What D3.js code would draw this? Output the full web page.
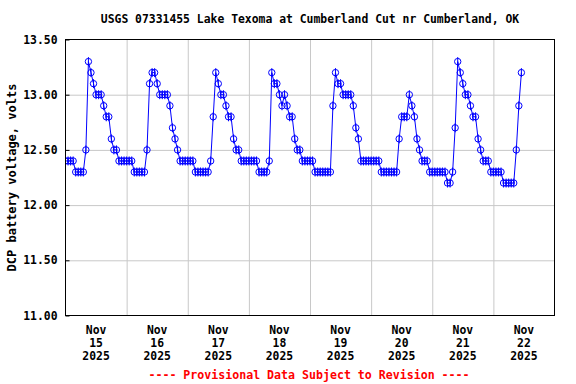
<!DOCTYPE html>
<html>
<head>
<meta charset="utf-8">
<script src="https://cdn.jsdelivr.net/npm/d3@7"></script>
<style>
  body { margin: 0; background: #fff; }
  svg text { font-family: "DejaVu Sans Mono", "Liberation Mono", monospace; font-weight: bold; }
</style>
</head>
<body>
<svg id="chart" width="576" height="384"></svg>
<script>
const title = 'USGS 07331455 Lake Texoma at Cumberland Cut nr Cumberland, OK'
const yLabel = 'DCP battery voltage, volts'
const footer = '---- Provisional Data Subject to Revision ----'

// hourly readings starting Nov 15 2025 00:00
const startTime = Date.UTC(2025, 10, 15)
const volts = [
  12.4, 12.4, 12.4, 12.4, 12.3, 12.3, 12.3, 12.3, 12.5, 13.3, 13.2, 13.1, 13.0, 13.0, 13.0, 12.9, 12.8, 12.8, 12.6, 12.5, 12.5, 12.4, 12.4, 12.4,
  12.4, 12.4, 12.4, 12.3, 12.3, 12.3, 12.3, 12.3, 12.5, 13.1, 13.2, 13.2, 13.1, 13.0, 13.0, 13.0, 13.0, 12.9, 12.7, 12.6, 12.5, 12.4, 12.4, 12.4,
  12.4, 12.4, 12.4, 12.3, 12.3, 12.3, 12.3, 12.3, 12.3, 12.4, 12.8, 13.2, 13.1, 13.0, 13.0, 12.9, 12.8, 12.8, 12.6, 12.5, 12.5, 12.4, 12.4, 12.4,
  12.4, 12.4, 12.4, 12.4, 12.3, 12.3, 12.3, 12.3, 12.4, 13.2, 13.1, 13.1, 13.0, 12.9, 13.0, 12.9, 12.8, 12.8, 12.6, 12.5, 12.5, 12.4, 12.4, 12.4,
  12.4, 12.4, 12.3, 12.3, 12.3, 12.3, 12.3, 12.3, 12.3, 12.9, 13.2, 13.1, 13.1, 13.0, 13.0, 13.0, 13.0, 12.9, 12.7, 12.6, 12.4, 12.4, 12.4, 12.4,
  12.4, 12.4, 12.4, 12.4, 12.3, 12.3, 12.3, 12.3, 12.3, 12.3, 12.3, 12.6, 12.8, 12.8, 12.8, 13.0, 12.9, 12.8, 12.6, 12.5, 12.4, 12.4, 12.4, 12.3,
  12.3, 12.3, 12.3, 12.3, 12.3, 12.3, 12.2, 12.2, 12.3, 12.7, 13.3, 13.2, 13.1, 13.0, 13.0, 12.9, 12.8, 12.8, 12.6, 12.5, 12.4, 12.4, 12.4, 12.3,
  12.3, 12.3, 12.3, 12.3, 12.2, 12.2, 12.2, 12.2, 12.2, 12.5, 12.9, 13.2
]

const yTicks = [11.0, 11.5, 12.0, 12.5, 13.0, 13.5]
const dayLabels = ['15', '16', '17', '18', '19', '20', '21', '22']
const monthLabel = 'Nov'
const yearLabel = '2025'

const hour = 3600 * 1000
const points = volts.map((v, i) => ({ t: new Date(startTime + i * hour), v }))

const plotLeft = 65.5, plotRight = 554.5, plotTop = 39.5, plotBottom = 315.5
const svg = d3.select('#chart')

const x = d3.scaleUtc()
  .domain([new Date(startTime), new Date(startTime + 8 * 24 * hour)])
  .range([plotLeft, plotRight])
const y = d3.scaleLinear().domain([11, 13.5]).range([plotBottom, plotTop])

// grid
const dayBounds = d3.range(1, 8).map(d => new Date(startTime + d * 24 * hour))
svg.append('g')
  .attr('transform', `translate(0,${plotBottom})`)
  .call(d3.axisBottom(x).tickValues(dayBounds).tickSize(-(plotBottom - plotTop)).tickFormat(''))
  .call(g => g.select('.domain').remove())
  .call(g => g.selectAll('line').attr('stroke', '#c8c8c8'))
svg.append('g')
  .attr('transform', `translate(${plotLeft},0)`)
  .call(d3.axisLeft(y).tickValues(yTicks.slice(1, -1)).tickSize(-(plotRight - plotLeft)).tickFormat(''))
  .call(g => g.select('.domain').remove())
  .call(g => g.selectAll('line').attr('stroke', '#c8c8c8'))

// data
svg.append('clipPath').attr('id', 'clip')
  .append('rect')
  .attr('x', plotLeft).attr('y', plotTop)
  .attr('width', plotRight - plotLeft).attr('height', plotBottom - plotTop)
const plot = svg.append('g').attr('clip-path', 'url(#clip)')

const line = d3.line().x(d => x(d.t)).y(d => y(d.v))
plot.append('path')
  .datum(points)
  .attr('d', line)
  .attr('fill', 'none')
  .attr('stroke', '#0000ff')
  .attr('stroke-width', 1)

const marker = plot.selectAll('.marker').data(points).enter().append('g')
  .classed('marker', true)
  .attr('transform', d => `translate(${x(d.t)},${y(d.v)})`)
marker.append('circle')
  .attr('r', 3.2)
  .attr('fill', 'none')
  .attr('stroke', '#0000ff')
  .attr('stroke-width', 1)
marker.append('line')
  .attr('x1', 0).attr('x2', 0)
  .attr('y1', -4.5).attr('y2', 4.5)
  .attr('stroke', '#0000ff')
  .attr('stroke-width', 1)

// frame
svg.append('rect')
  .attr('x', plotLeft).attr('y', plotTop)
  .attr('width', plotRight - plotLeft).attr('height', plotBottom - plotTop)
  .attr('fill', 'none')
  .attr('stroke', '#000')
  .attr('stroke-width', 1)

// y axis
svg.append('g')
  .attr('transform', `translate(${plotLeft},0)`)
  .call(d3.axisLeft(y).tickValues(yTicks).tickFormat(d3.format('.2f')).tickSize(-4).tickSizeOuter(0).tickPadding(8))
  .call(g => g.select('.domain').remove())
  .call(g => g.selectAll('line').attr('stroke', '#000'))
  .call(g => g.selectAll('text')
    .attr('fill', '#000')
    .style('font-size', '11.4px')
    .style('font-family', '"DejaVu Sans Mono", monospace')
    .style('font-weight', 'bold'))

// x axis labels at noon of each day
const noons = dayLabels.map((d, i) => new Date(startTime + (i * 24 + 12) * hour))
const xl = svg.append('g').selectAll('text').data(noons).enter().append('text')
  .attr('text-anchor', 'middle')
  .attr('transform', d => `translate(${x(d)},334)`)
  .style('font-size', '11.4px')
xl.append('tspan').attr('x', 0).attr('y', 0).text(monthLabel)
xl.append('tspan').attr('x', 0).attr('y', 13).text((d, i) => dayLabels[i])
xl.append('tspan').attr('x', 0).attr('y', 26).text(yearLabel)

// titles
svg.append('text')
  .attr('x', (plotLeft + plotRight) / 2).attr('y', 23)
  .attr('text-anchor', 'middle')
  .style('font-size', '11.4px')
  .text(title)

svg.append('text')
  .attr('transform', `translate(16,${(plotTop + plotBottom) / 2}) rotate(-90)`)
  .attr('text-anchor', 'middle')
  .style('font-size', '12px')
  .text(yLabel)

svg.append('text')
  .attr('x', 309).attr('y', 379)
  .attr('text-anchor', 'middle')
  .attr('fill', '#ff0000')
  .style('font-size', '11.6px')
  .text(footer)
</script>
</body>
</html>
